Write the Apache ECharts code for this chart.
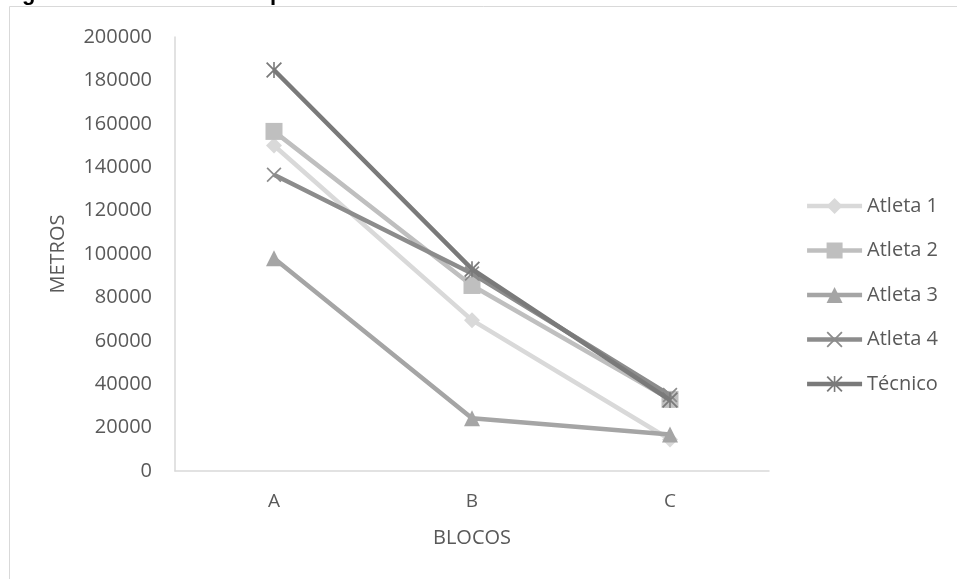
<!DOCTYPE html>
<html><head><meta charset="utf-8">
<script src="https://cdn.jsdelivr.net/npm/echarts@6/dist/echarts.min.js"></script>
<style>html,body{margin:0;padding:0;background:#fff}#c{width:957px;height:579px}</style>
</head><body><div id="c"></div>
<script>
const categories = ['A', 'B', 'C'];
const yTicks = [0, 20000, 40000, 60000, 80000, 100000, 120000, 140000, 160000, 180000, 200000];
const atleta1 = [150000, 69500, 14500];
const atleta2 = [156500, 85500, 33000];
const atleta3 = [98000, 24300, 16800];
const atleta4 = [136500, 91000, 35000];
const tecnico = [184800, 93000, 32700];
const seriesNames = ['Atleta 1', 'Atleta 2', 'Atleta 3', 'Atleta 4', 'Técnico'];

const X_PATH = 'path://M0,0.8L0.8,0L5,4.2L9.2,0L10,0.8L5.8,5L10,9.2L9.2,10L5,5.8L0.8,10L0,9.2L4.2,5Z';
const AST_PATH = 'path://M0,0.8L0.8,0L5,4.2L9.2,0L10,0.8L5.8,5L10,9.2L9.2,10L5,5.8L0.8,10L0,9.2L4.2,5Z M4.5,0L5.5,0L5.5,10L4.5,10Z';
const styles = [
  {color:'#d9d9d9', symbol:'diamond', size:16},
  {color:'#bfbfbf', symbol:'rect', size:17},
  {color:'#a5a5a5', symbol:'triangle', size:16},
  {color:'#8c8c8c', symbol:X_PATH, size:15},
  {color:'#7a7a7a', symbol:AST_PATH, size:16}
];
const dataSets = [atleta1, atleta2, atleta3, atleta4, tecnico];
const font = '"Open Sans", Lato, sans-serif';

const chart = echarts.init(document.getElementById('c'));
chart.setOption({
  animation:false,
  backgroundColor:'#fff',
  graphic:[
    {type:'rect', shape:{x:9.5,y:6.5,width:1000,height:700}, style:{fill:'none', stroke:'#d9d9d9', lineWidth:1}, silent:true},
    {type:'text', left:22, top:-17, style:{text:'g', font:'bold 22px "Liberation Sans", sans-serif', fill:'#000'}},
    {type:'text', left:270, top:-17, style:{text:'p', font:'bold 22px "Liberation Sans", sans-serif', fill:'#000'}}
  ],
  grid:{left:175, right:188, top:37, bottom:108},
  legend:{
    orient:'vertical', right:14, top:191, itemWidth:55, itemHeight:20, itemGap:24.5,
    lineStyle:{width:4.5},
    textStyle:{fontFamily:font, fontSize:20, lineHeight:20, color:'#595959'},
    data:seriesNames
  },
  xAxis:{
    type:'category', data:categories, boundaryGap:true,
    name:'BLOCOS', nameLocation:'middle', nameGap:57,
    nameTextStyle:{fontFamily:font, fontSize:20, color:'#595959'},
    axisLine:{lineStyle:{color:'#d9d9d9', width:1.5}},
    axisTick:{show:false},
    axisLabel:{fontFamily:font, fontSize:19, color:'#595959', margin:21}
  },
  yAxis:{
    type:'value', min:yTicks[0], max:yTicks[yTicks.length-1], interval:yTicks[1]-yTicks[0],
    name:'METROS', nameLocation:'middle', nameGap:107,
    nameTextStyle:{fontFamily:font, fontSize:20, color:'#595959'},
    axisLine:{show:true, lineStyle:{color:'#d9d9d9', width:1.5}},
    axisTick:{show:false},
    splitLine:{show:false},
    axisLabel:{fontFamily:font, fontSize:20, color:'#595959', margin:23, formatter:v=>String(v)}
  },
  series: seriesNames.map((n,i)=>({
    name:n, type:'line', data:dataSets[i],
    symbol:styles[i].symbol, symbolSize:styles[i].size,
    showAllSymbol:true,
    lineStyle:{color:styles[i].color, width:4.5},
    itemStyle:{color:styles[i].color},
    z: 2+i
  }))
});
</script></body></html>
